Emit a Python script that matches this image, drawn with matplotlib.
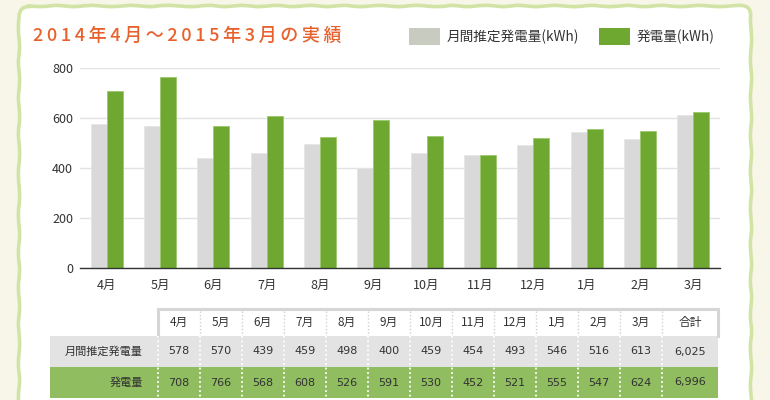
import matplotlib.pyplot as plt
from matplotlib.patches import FancyBboxPatch, Rectangle
import numpy as np

plt.rcParams['font.family'] = ['Noto Sans CJK JP', 'DejaVu Sans']

months = ["4月", "5月", "6月", "7月", "8月", "9月", "10月", "11月", "12月", "1月", "2月", "3月"]
estimated = [578, 570, 439, 459, 498, 400, 459, 454, 493, 546, 516, 613]
actual = [708, 766, 568, 608, 526, 591, 530, 452, 521, 555, 547, 624]
total_label = "合計"
estimated_total = "6,025"
actual_total = "6,996"
row_labels = ["月間推定発電量", "発電量"]
title = "2014年4月～2015年3月の実績"
legend_labels = ["月間推定発電量(kWh)", "発電量(kWh)"]
yticks = [0, 200, 400, 600, 800]

GRAY = "#d9d9d9"
GRAY_SW = "#c8cbc0"
GREEN = "#6ea830"
ORANGE = "#e8612c"
TEXT = "#333333"

W, H = 770, 400
fig = plt.figure(figsize=(W / 100, H / 100), dpi=100)
fig.patch.set_facecolor("#f8f6e9")

# pixel-space background layer
bg = fig.add_axes([0, 0, 1, 1])
bg.set_xlim(0, W)
bg.set_ylim(H, 0)
bg.axis("off")
panel = FancyBboxPatch((19, 6), 732, 420, boxstyle="round,pad=0,rounding_size=10",
                       facecolor="white", edgecolor="#d2e3a6", linewidth=2.6)
panel.set_sketch_params(scale=0.6, length=40, randomness=2)
bg.add_patch(panel)

# spaced-out title like the original
bg.text(33, 36, "\u2009".join(title), color=ORANGE, fontsize=13, va="center", ha="left",
        weight="medium")
bg.add_patch(Rectangle((409, 28), 31, 17, facecolor=GRAY_SW, edgecolor="none"))
bg.text(447, 36.5, legend_labels[0], color=TEXT, fontsize=9.8, va="center", ha="left")
bg.add_patch(Rectangle((599, 28), 31, 17, facecolor=GREEN, edgecolor="none"))
bg.text(637, 36.5, legend_labels[1], color=TEXT, fontsize=9.8, va="center", ha="left")

# bar chart
ax = fig.add_axes([80 / W, (H - 268) / H, 640 / W, 200 / H])
ax.patch.set_alpha(0)
x = np.arange(len(months))
bw = 0.3
ax.bar(x - bw / 2, estimated, bw, color=GRAY, edgecolor="#e6e6e6", linewidth=0.6, zorder=2)
ax.bar(x + bw / 2, actual, bw, color=GREEN, edgecolor="#9cc86a", linewidth=0.6, zorder=2)
ax.set_xlim(-0.5, len(months) - 0.5)
ax.set_ylim(0, 800)
ax.set_yticks(yticks)
ax.set_xticks(x)
ax.set_xticklabels(months)
ax.tick_params(length=0, labelsize=9, colors=TEXT, pad=5)
ax.tick_params(axis="x", pad=8)
ax.grid(axis="y", color="#e2e2e2", linewidth=1, zorder=0)
for s in ("top", "right", "left"):
    ax.spines[s].set_visible(False)
ax.spines["bottom"].set_color("#333333")
ax.spines["bottom"].set_linewidth(1)
ax.spines["bottom"].set_zorder(3)

# table
col0 = 158
cw = 42
tot_w = 56
right = col0 + cw * len(months) + tot_w
y_head, y_r1, y_r2, y_end = 309, 336, 367, 398

bg.add_patch(Rectangle((50, y_r1), right - 50, y_r2 - y_r1, facecolor="#e3e3e3", edgecolor="none"))
bg.add_patch(Rectangle((50, y_r2), right - 50, y_end - y_r2, facecolor="#8fbd5f", edgecolor="none"))
bg.plot([col0, col0, right, right], [y_r1, y_head, y_head, y_r1], color="#d6d6d6", linewidth=2.2,
        solid_joinstyle="miter")

headers = months + [total_label]
row1 = [str(v) for v in estimated] + [estimated_total]
row2 = [str(v) for v in actual] + [actual_total]
lefts = [col0 + i * cw for i in range(len(months))] + [col0 + cw * len(months)]
widths = [cw] * len(months) + [tot_w]
for i, (l, w) in enumerate(zip(lefts, widths)):
    cx = l + w / 2
    bg.text(cx, (y_head + y_r1) / 2, headers[i], ha="center", va="center", fontsize=8.5, color=TEXT)
    bg.text(cx, (y_r1 + y_r2) / 2, row1[i], ha="center", va="center", fontsize=8, color=TEXT,
            family=["DejaVu Sans"])
    bg.text(cx, (y_r2 + y_end) / 2, row2[i], ha="center", va="center", fontsize=8, color=TEXT,
            family=["DejaVu Sans"])
    if i > 0:
        bg.plot([l, l], [y_head + 2, y_r1], color="#d0d0d0", linewidth=1, linestyle=(0, (1, 1.5)))
    bg.plot([l, l], [y_r1, y_end], color="white", linewidth=1.3, linestyle=(0, (1, 1.5)))

bg.text(143, (y_r1 + y_r2) / 2, row_labels[0], ha="right", va="center", fontsize=8, color=TEXT)
bg.text(143, (y_r2 + y_end) / 2, row_labels[1], ha="right", va="center", fontsize=8, color=TEXT)

fig.savefig("out.png", dpi=100, facecolor=fig.get_facecolor())
